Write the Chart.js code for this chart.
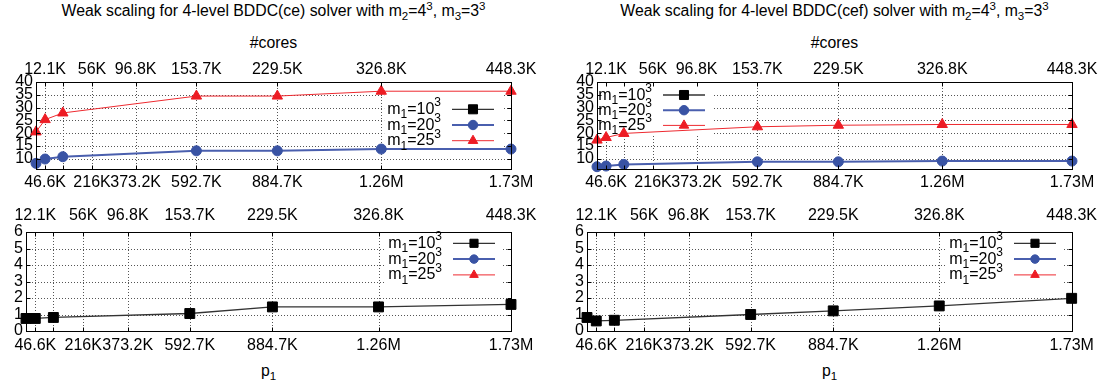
<!DOCTYPE html>
<html>
<head>
<meta charset="utf-8">
<script src="https://cdn.jsdelivr.net/npm/chart.js@4.4.1/dist/chart.umd.min.js"></script>
<style>
  body { margin: 0; background: #fff; width: 1104px; height: 383px; overflow: hidden; position: relative;
         font-family: "Liberation Sans", Arial, sans-serif; }
  canvas { position: absolute; }
  .lbl { position: absolute; text-align: center; font-size: 15.8px; line-height: 18px; color: #000; white-space: nowrap; }
  .lbl sub, .lbl sup { font-size: 11.5px; line-height: 0; }
</style>
</head>
<body>
<div class="lbl" style="left:36px;width:475px;top:2px">Weak scaling for 4-level BDDC(ce) solver with m<sub>2</sub>=4<sup>3</sup>, m<sub>3</sub>=3<sup>3</sup></div>
<div class="lbl" style="left:597px;width:475px;top:2px">Weak scaling for 4-level BDDC(cef) solver with m<sub>2</sub>=4<sup>3</sup>, m<sub>3</sub>=3<sup>3</sup></div>
<div class="lbl" style="left:36px;width:475px;top:34px">#cores</div>
<div class="lbl" style="left:597px;width:475px;top:34px">#cores</div>
<div class="lbl" style="left:26px;width:485px;top:362px">p<sub>1</sub></div>
<div class="lbl" style="left:587px;width:485px;top:362px">p<sub>1</sub></div>
<canvas id="tl"></canvas>
<canvas id="tr"></canvas>
<canvas id="bl"></canvas>
<canvas id="br"></canvas>
<script>
// x: number of level-1 subdomains p1, top axis: #cores
const p1 = [13824, 46656, 110592, 592704, 884736, 1259712, 1728000];
const p1Ticks = [46656, 110592, 216000, 373248, 592704, 884736, 1259712, 1728000];
const p1Labels = ['46.6K', '', '216K', '373.2K', '592.7K', '884.7K', '1.26M', '1.73M'];
const coreLabels = ['12.1K', '', '56K', '96.8K', '153.7K', '229.5K', '326.8K', '448.3K'];
const meshSizes = ['10', '20', '25'];

// top row (iterations)
const itTicks = [10, 15, 20, 25, 30, 35, 40];
const itCe20 = [8.2, 9.9, 10.8, 13.1, 13.1, 13.8, 13.8];
const itCe25 = [20.5, 25.3, 27.9, 34.5, 34.5, 36.4, 36.4];
const itCef20 = [6.9, 7.15, 7.8, 8.8, 8.8, 9.1, 9.1];
const itCef25 = [17.3, 18.3, 19.9, 22.5, 23.1, 23.4, 23.4];

// bottom row (time)
const timeTicks = [0, 1, 2, 3, 4, 5, 6];
const timeCe10 = [0.76, 0.76, 0.82, 1.06, 1.46, 1.46, 1.61];
const timeCef10 = [0.82, 0.61, 0.65, 1.0, 1.22, 1.52, 1.98];

const FONT = '"Liberation Sans", Arial, sans-serif';
Chart.defaults.font.family = FONT;

const styles = [
  { borderColor: '#333', borderWidth: 1.3, pointStyle: 'rect', pointRadius: 7, c: '#000', keyR: 6.4 },
  { borderColor: '#4a5fae', borderWidth: 2, pointStyle: 'circle', pointRadius: 5, c: '#3953a4', keyR: 4.7 },
  { borderColor: '#ee2a30', borderWidth: 1, pointStyle: 'triangle', pointRadius: 6, c: '#ed1c24', keyR: 5.5 }
];

function mark(ctx, style, x, y, r) {
  ctx.beginPath();
  if (style === 'rect') { const s = r * Math.SQRT1_2; ctx.rect(x - s, y - s, 2 * s, 2 * s); }
  else if (style === 'circle') ctx.arc(x, y, r, 0, Math.PI * 2);
  else { ctx.moveTo(x, y - r); ctx.lineTo(x + r * 0.866, y + r / 2); ctx.lineTo(x - r * 0.866, y + r / 2); ctx.closePath(); }
  ctx.fill(); ctx.stroke();
}

function keyWidth(ctx, n) {
  ctx.font = '16px ' + FONT; const a = ctx.measureText('m').width, c = ctx.measureText('=' + n).width;
  ctx.font = '12px ' + FONT; const b = ctx.measureText('1').width, d = ctx.measureText('3').width;
  return a + b + c + d;
}

function keyText(ctx, n, x, base) {
  ctx.textAlign = 'left'; ctx.textBaseline = 'alphabetic';
  ctx.font = '16px ' + FONT; ctx.fillText('m', x, base); x += ctx.measureText('m').width;
  ctx.font = '12px ' + FONT; ctx.fillText('1', x, base + 4.5); x += ctx.measureText('1').width;
  ctx.font = '16px ' + FONT; ctx.fillText('=' + n, x, base); x += ctx.measureText('=' + n).width;
  ctx.font = '12px ' + FONT; ctx.fillText('3', x, base - 7.5);
}

// gnuplot-like frame: dotted grid, opaque key, border with inward tics
const gnu = {
  id: 'gnu',
  beforeDatasetsDraw(chart, args, o) {
    const { ctx, chartArea: a, scales } = chart;
    const x = scales.x, y = scales.y;
    ctx.save();
    ctx.strokeStyle = '#555'; ctx.lineWidth = 1; ctx.setLineDash([1, 2]);
    ctx.beginPath();
    x.ticks.forEach(t => {
      const px = Math.round(x.getPixelForValue(t.value)) + 0.5;
      if (px > a.left + 2 && px < a.right - 2) { ctx.moveTo(px, a.top); ctx.lineTo(px, a.bottom); }
    });
    y.ticks.forEach(t => {
      const py = Math.round(y.getPixelForValue(t.value)) + 0.5;
      if (py > a.top + 2 && py < a.bottom - 2) { ctx.moveTo(a.left, py); ctx.lineTo(a.right, py); }
    });
    ctx.stroke();
    ctx.setLineDash([]);
    // opaque key box (clipped to the plot area)
    const k = o.key, sx2 = k.sampleEnd - o.ox, sx1 = sx2 - 42;
    const tw = keyWidth(ctx, '10'), bl = sx1 - 11 - tw - 3;
    const r1 = k.row1 - o.oy;
    const bt = Math.max(r1 - 15, a.top), bb = Math.min(r1 + 2 * k.gap + 9, a.bottom);
    ctx.fillStyle = '#fff';
    ctx.fillRect(Math.max(bl, a.left), bt, sx2 + 8 - Math.max(bl, a.left), bb - bt);
    ctx.restore();
  },
  afterDatasetsDraw(chart, args, o) {
    const { ctx, chartArea: a, scales } = chart;
    const x = scales.x, y = scales.y;
    const L = Math.round(a.left) + 0.5, R = Math.round(a.right) + 0.5, T = Math.round(a.top) + 0.5, B = Math.round(a.bottom) + 0.5;
    ctx.save();
    ctx.strokeStyle = '#000'; ctx.lineWidth = 1;
    ctx.beginPath();
    x.ticks.forEach(t => {
      const px = Math.round(x.getPixelForValue(t.value)) + 0.5;
      ctx.moveTo(px, B); ctx.lineTo(px, B - 4); ctx.moveTo(px, T); ctx.lineTo(px, T + 4);
    });
    y.ticks.forEach(t => {
      const py = Math.round(y.getPixelForValue(t.value)) + 0.5;
      ctx.moveTo(L, py); ctx.lineTo(L + 4, py); ctx.moveTo(R, py); ctx.lineTo(R - 4, py);
    });
    ctx.stroke();
    ctx.strokeRect(L, T, R - L, B - T);
    // key entries
    const k = o.key, sx2 = k.sampleEnd - o.ox, sx1 = sx2 - 42;
    chart.data.datasets.forEach((ds, i) => {
      const st = styles[i], ry = k.row1 - o.oy + i * k.gap;
      const tw = keyWidth(ctx, meshSizes[i]);
      ctx.fillStyle = '#000';
      keyText(ctx, meshSizes[i], sx1 - 11 - tw, ry + 4.5);
      ctx.strokeStyle = st.borderColor; ctx.lineWidth = st.borderWidth;
      ctx.beginPath(); ctx.moveTo(sx1, ry); ctx.lineTo(sx2, ry); ctx.stroke();
      ctx.fillStyle = st.c; ctx.strokeStyle = st.c; ctx.lineWidth = 1;
      mark(ctx, st.pointStyle, (sx1 + sx2) / 2, ry, st.keyR * k.ms);
    });
    ctx.restore();
  }
};

function panel(id, box, area, yMin, yMax, yTicks, series, key, pad) {
  const cv = document.getElementById(id);
  cv.width = box.w; cv.height = box.h;
  cv.style.left = box.x + 'px'; cv.style.top = box.y + 'px';
  const tickFont = { family: FONT, size: 16 };
  const noGrid = { display: false, drawTicks: false, tickLength: 0 };
  const xBase = {
    type: 'linear', min: p1[0], max: p1[p1.length - 1],
    grid: noGrid, border: { display: false },
    afterBuildTicks: s => { s.ticks = p1Ticks.map(v => ({ value: v })); }
  };
  new Chart(cv, {
    type: 'line',
    data: {
      datasets: series.map((vals, i) => ({
        label: 'm1=' + meshSizes[i] + '^3',
        data: vals ? p1.map((v, j) => ({ x: v, y: vals[j] })) : [],
        borderColor: styles[i].borderColor, borderWidth: styles[i].borderWidth,
        pointStyle: styles[i].pointStyle, pointRadius: styles[i].pointRadius,
        pointBackgroundColor: styles[i].c, pointBorderColor: styles[i].c, pointBorderWidth: 1,
        tension: 0, clip: false
      }))
    },
    options: {
      responsive: false, animation: false, events: [],
      layout: { padding: { left: 0, top: 0, bottom: 0, right: box.x + box.w - area.r } },
      plugins: { legend: { display: false }, tooltip: { enabled: false }, gnu: { ox: box.x, oy: box.y, key } },
      scales: {
        x: { ...xBase, position: 'bottom',
             afterFit: s => { s.height = box.y + box.h - area.b; },
             ticks: { autoSkip: false, maxRotation: 0, minRotation: 0, padding: pad.bottom, color: '#000', font: tickFont,
                      callback: (v, i) => p1Labels[i] } },
        x2: { ...xBase, position: 'top',
              afterFit: s => { s.height = area.t - box.y; },
              ticks: { autoSkip: false, maxRotation: 0, minRotation: 0, padding: pad.top, color: '#000', font: tickFont,
                       callback: (v, i) => coreLabels[i] } },
        y: { type: 'linear', position: 'left', min: yMin, max: yMax,
             grid: noGrid, border: { display: false },
             afterBuildTicks: s => { s.ticks = yTicks.map(v => ({ value: v })); },
             afterFit: s => { s.width = area.l - box.x; },
             ticks: { autoSkip: false, padding: 3, color: '#000', font: tickFont } }
      }
    },
    plugins: [gnu]
  });
}

panel('tl', { x: 0, y: 48, w: 552, h: 150 }, { l: 36, r: 511, t: 82, b: 169 }, 6, 40, itTicks,
      [null, itCe20, itCe25], { sampleEnd: 494, row1: 109.3, gap: 15.7, ms: 1 }, { top: 3, bottom: 4 });
panel('tr', { x: 552, y: 48, w: 552, h: 150 }, { l: 597, r: 1072, t: 82, b: 169 }, 6, 40, itTicks,
      [null, itCef20, itCef25], { sampleEnd: 705, row1: 95, gap: 15.2, ms: 1 }, { top: 3, bottom: 4 });
panel('bl', { x: 0, y: 198, w: 552, h: 185 }, { l: 26, r: 511, t: 232, b: 331 }, 0, 6, timeTicks,
      [timeCe10, null, null], { sampleEnd: 495, row1: 243.3, gap: 15.8, ms: 0.9 }, { top: 7, bottom: 5 });
panel('br', { x: 552, y: 198, w: 552, h: 185 }, { l: 587, r: 1072, t: 232, b: 331 }, 0, 6, timeTicks,
      [timeCef10, null, null], { sampleEnd: 1056, row1: 243.3, gap: 15.8, ms: 0.9 }, { top: 7, bottom: 5 });
</script>
</body>
</html>
